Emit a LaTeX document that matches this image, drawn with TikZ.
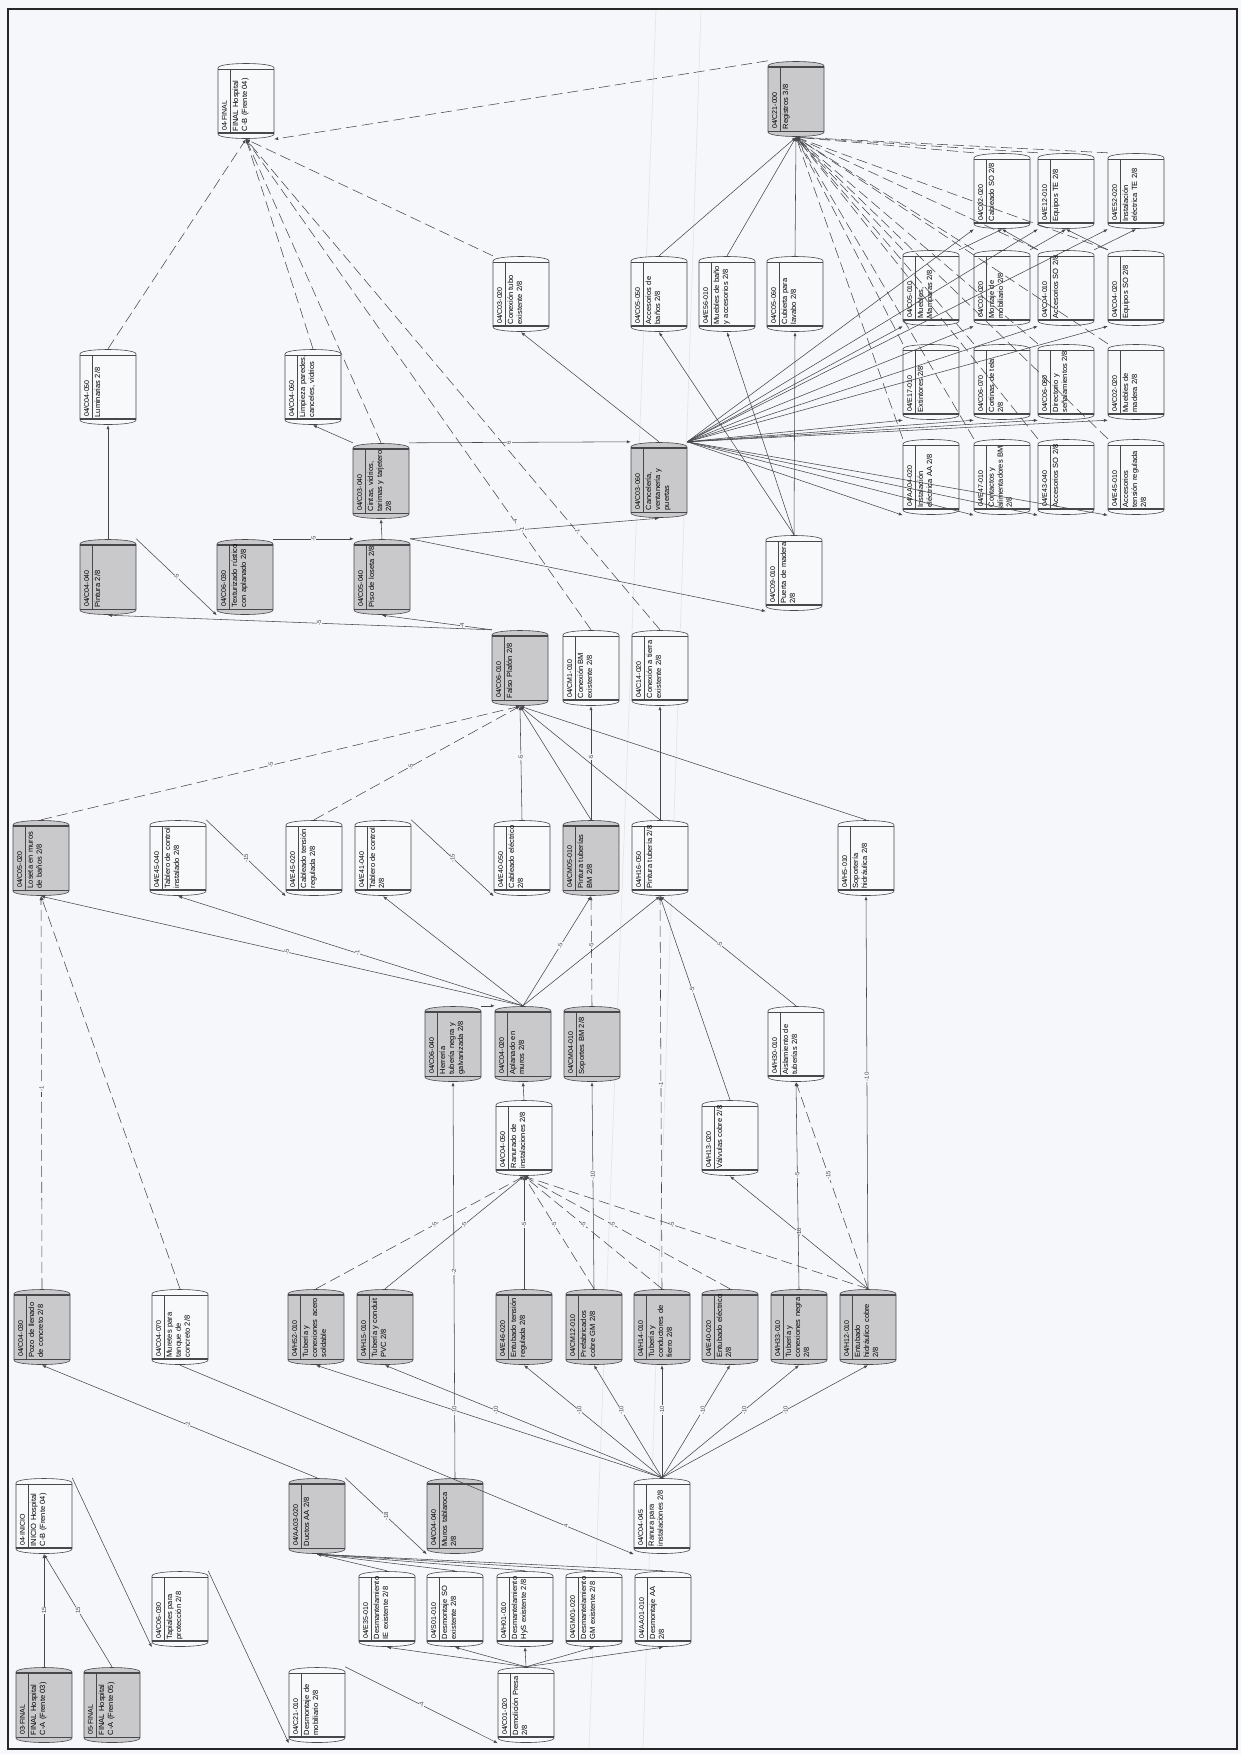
\documentclass[tikz,border=0pt]{standalone}
\usepackage{fontspec}
\setmainfont{Liberation Sans}
\usetikzlibrary{arrows.meta}
\hyphenpenalty=10000
\exhyphenpenalty=10000
\lefthyphenmin=64
\definecolor{bgc}{RGB}{246,247,250}
\definecolor{gfill}{RGB}{201,201,204}
\definecolor{wfill}{RGB}{248,249,251}
\definecolor{lnc}{RGB}{72,72,76}
\tikzset{
 edge/.style={draw=lnc,line width=0.55pt,-{Latex[length=4pt,width=3.2pt]}},
 dedge/.style={edge,dash pattern=on 11pt off 5pt},
 lab/.style={rotate=90,font=\fontsize{6}{6}\selectfont,fill=bgc,inner sep=0.5pt,text=lnc},
 toplgfill/.style={line width=1.4pt}, toplwfill/.style={line width=0.5pt},
 botlgfill/.style={line width=0.5pt}, botlwfill/.style={line width=1.2pt},
}
\newcommand\tsk[6]{%
 \node[minimum width=56pt,minimum height=76pt,inner sep=0pt] (#1) at (#2,#3) {};
 \draw[lnc,line width=0.6pt,fill=#4] ({#2-28},{#3-33}) .. controls ({#2-28},{#3-39}) and ({#2+28},{#3-39}) .. ({#2+28},{#3-33}) -- ({#2+28},{#3+33}) .. controls ({#2+28},{#3+39}) and ({#2-28},{#3+39}) .. ({#2-28},{#3+33}) -- cycle;
 \draw[lnc,topl#4] ({#2-28},{#3-32}) -- ({#2+28},{#3-32});
 \draw[lnc,botl#4] ({#2-28},{#3+32}) -- ({#2+28},{#3+32});
 \draw[lnc,line width=0.5pt] ({#2-15.5},{#3-32}) -- ({#2-15.5},{#3+32});
 \node[rotate=90,anchor=west,inner sep=0pt,font=\fontsize{7}{8}\selectfont] at ({#2-21.5},{#3+30}) {#5};
 \node[rotate=90,anchor=north west,inner sep=0pt,text width=63pt,align=left,font=\fontsize{7.5}{9}\selectfont] at ({#2-13.5},{#3+30.5}) {#6};
}
\begin{document}
\begin{tikzpicture}[x=1pt,y=-1pt]
\fill[bgc] (0,0) rectangle (1241,1754);
\useasboundingbox (0,0) rectangle (1241,1754);
\draw[black!10,line width=0.7pt] (656,10) -- (589,1748);
\draw[black!10,line width=0.7pt] (701,10) -- (643,1748);
\draw[line width=2.2pt,black!85] (8,9) rectangle (1237,1749);
% ---------- nodes ----------
\tsk{FIN}{246}{101}{wfill}{04-FINAL}{FINAL Hospital C-B (Frente 04)}
\tsk{REG}{796}{99}{gfill}{04/C21-000}{Registros 3/8}
\tsk{LUM}{108}{387}{wfill}{04/C04-050}{Luminarias 2/8}
\tsk{LIM}{313}{387}{wfill}{04/C04-060}{Limpieza paredes, canceles, vidrios}
\tsk{CTE}{521}{294}{wfill}{04/C03-020}{Conexión tubo existente 2/8}
\tsk{ABA}{659}{294}{wfill}{04/C05-050}{Accesorios de baños 2/8}
\tsk{MBA}{727}{294}{wfill}{04/E56-010}{Muebles de baño y accesorios 2/8}
\tsk{CUB}{795}{294}{wfill}{04/C05-060}{Cubierta para lavabo 2/8}
\tsk{CSO}{1002}{191}{wfill}{04/C02-020}{Cableado SO 2/8}
\tsk{ETE}{1066}{191}{wfill}{04/E12-010}{Equipos TE 2/8}
\tsk{IET}{1136}{191}{wfill}{04/E52-020}{Instalación eléctrica TE 2/8}
\tsk{MAM}{931}{288}{wfill}{04/C05-010}{Muebles, Mamparas 2/8}
\tsk{MON}{1002}{288}{wfill}{04/C01-020}{Montaje de mobiliario 2/8}
\tsk{ACS}{1066}{288}{wfill}{04/C04-010}{Accesorios SO 2/8}
\tsk{EQS}{1136}{288}{wfill}{04/C04-020}{Equipos SO 2/8}
\tsk{EXT}{931}{382}{wfill}{04/E17-010}{Extintores 2/8}
\tsk{CTL}{1002}{382}{wfill}{04/C06-070}{Cortinas de tela 2/8}
\tsk{DIR}{1066}{382}{wfill}{04/C06-080}{Directorio y señalamientos 2/8}
\tsk{MMA}{1136}{382}{wfill}{04/C02-020}{Muebles de madera 2/8}
\tsk{IAA}{931}{477}{wfill}{04/AA04-020}{Instalación eléctrica AA 2/8}
\tsk{CAB}{1002}{477}{wfill}{04/E47-010}{Contactos y alimentadores BM 2/8}
\tsk{ACR}{1066}{477}{wfill}{04/E43-040}{Accesorios SO 2/8}
\tsk{ATR}{1136}{477}{wfill}{04/E45-010}{Accesorios tensión regulada 2/8}
\tsk{CAN}{659}{480}{gfill}{04/C03-060}{Cancelería, ventanería y puertas}
\tsk{CIN}{381}{481}{gfill}{04/C03-040}{Cintas, vidrios, tarimas y tarjetero 2/8}
\tsk{PIN}{108}{577}{gfill}{04/C04-040}{Pintura 2/8}
\tsk{TEX}{245}{577}{gfill}{04/C06-030}{Texturizado rústico con aplanado 2/8}
\tsk{PIS}{382}{577}{gfill}{04/C05-040}{Piso de loseta 2/8}
\tsk{PUE}{794}{573}{wfill}{04/C09-010}{Puerta de madera 2/8}
\tsk{FPL}{520}{668}{gfill}{04/C06-010}{Falso Plafón 2/8}
\tsk{CBM}{591}{668}{wfill}{04/CM1-010}{Conexión BM existente 2/8}
\tsk{CTX}{660}{668}{wfill}{04/C14-020}{Conexión a tierra existente 2/8}
\tsk{LMB}{41}{858}{gfill}{04/C05-020}{Loseta en muros de baños 2/8}
\tsk{TCI}{178}{858}{wfill}{04/E45-040}{Tablero de control instalado 2/8}
\tsk{CTR}{314}{858}{wfill}{04/E45-020}{Cableado tensión regulada 2/8}
\tsk{TCO}{383}{858}{wfill}{04/E41-040}{Tablero de control 2/8}
\tsk{CEL}{522}{858}{wfill}{04/E40-050}{Cableado eléctrico 2/8}
\tsk{PTB}{591}{858}{gfill}{04/CM05-010}{Pintura tuberías BM 2/8}
\tsk{PTU}{660}{858}{wfill}{04/H16-050}{Pintura tubería 2/8}
\tsk{SOH}{866}{858}{wfill}{04/H5-010}{Soportería hidráulica 2/8}
\tsk{HER}{453}{1044}{gfill}{04/C06-040}{Herrería tubería negra y galvanizada 2/8}
\tsk{APL}{523}{1044}{gfill}{04/C04-020}{Aplanado en muros 2/8}
\tsk{SBM}{592}{1044}{gfill}{04/CM04-010}{Soportes BM 2/8}
\tsk{AIS}{796}{1044}{wfill}{04/H30-010}{Aislamiento de tuberías 2/8}
\tsk{ROT}{524}{1138}{wfill}{04/C04-050}{Ranurado de instalaciones 2/8}
\tsk{VAL}{730}{1138}{wfill}{04/H13-020}{Válvulas cobre 2/8}
\tsk{POZ}{42}{1327}{gfill}{04/C04-030}{Pozo de llenado de concreto 2/8}
\tsk{MUR}{180}{1327}{wfill}{04/C04-070}{Muretes para tanque de concreto 2/8}
\tsk{TAS}{316}{1327}{gfill}{04/H52-010}{Tubería y conexiones acero soldable}
\tsk{TPV}{385}{1327}{gfill}{04/H15-010}{Tubería y conduit PVC 2/8}
\tsk{ETR}{524}{1327}{gfill}{04/E46-020}{Entubado tensión regulada 2/8}
\tsk{PCB}{594}{1327}{gfill}{04/CM12-010}{Prefabricados cobre GM 2/8}
\tsk{TCF}{662}{1327}{gfill}{04/H14-010}{Tubería y conductores de fierro 2/8}
\tsk{EEL}{730}{1327}{gfill}{04/E40-020}{Entubado eléctrico 2/8}
\tsk{TCN}{799}{1327}{gfill}{04/H33-010}{Tubería y conexiones negra 2/8}
\tsk{EHC}{868}{1327}{gfill}{04/H12-010}{Entubado hidráulico cobre 2/8}
\tsk{INI}{44}{1516}{wfill}{04-INICIO}{INICIO Hospital C-B (Frente 04)}
\tsk{DAA}{317}{1516}{gfill}{04/AA03-020}{Ductos AA 2/8}
\tsk{MTB}{455}{1516}{gfill}{04/C04-040}{Muros tablaroca 2/8}
\tsk{RAN}{662}{1516}{wfill}{04/C04-045}{Ranura para instalaciones 2/8}
\tsk{TAP}{180}{1609}{wfill}{04/C06-030}{Tapiales para protección 2/8}
\tsk{DIE}{387}{1609}{wfill}{04/E35-010}{Desmantelamiento IE existente 2/8}
\tsk{DSO}{455}{1609}{wfill}{04/S01-010}{Desmontaje SO existente 2/8}
\tsk{DHS}{525}{1609}{wfill}{04/H01-010}{Desmantelamiento HyS existente 2/8}
\tsk{DGM}{594}{1609}{wfill}{04/GM01-020}{Desmantelamiento GM existente 2/8}
\tsk{DAB}{663}{1609}{wfill}{04/AA01-010}{Desmontaje AA 2/8}
\tsk{FZA}{44}{1705}{gfill}{03-FINAL}{FINAL Hospital C-A (Frente 03)}
\tsk{FZB}{112}{1705}{gfill}{05-FINAL}{FINAL Hospital C-A (Frente 05)}
\tsk{DMO}{317}{1705}{wfill}{04/C21-010}{Desmontaje de mobiliario 2/8}
\tsk{DPR}{526}{1705}{wfill}{04/C01-020}{Demolición Presa 2/8}
% ---------- connectors ----------
\draw[dedge] (REG.north west) -- (FIN.south east);
\draw[dedge] (LUM.north) -- (FIN.south);
\draw[dedge] (LIM.north) -- (FIN.south);
\draw[dedge] (CTE.north west) -- (FIN.south);
\draw[dedge] (CIN.north) -- (FIN.south);
\draw[dedge] (CBM.north) -- node[lab,pos=0.22]{-4} (FIN.south);
\draw[dedge] (CTX.north) -- node[lab,pos=0.2]{-1} (FIN.south);
\foreach \n in {CSO,ETE,IET,MAM,MON,ACS,EQS,EXT,CTL,DIR,MMA,IAA,CAB,ACR,ATR}{
  \draw[dedge] (\n.north west) -- (REG.south);
  \draw[edge] (CAN.north east) -- (\n.south west);
}
\draw[edge] (MAM.north east) -- (CSO.south);
\draw[edge] (ACS.north west) -- (CSO.south);
\draw[edge] (MON.north east) -- (ETE.south);
\draw[edge] (EQS.north west) -- (ETE.south);
\draw[edge] (ACS.north east) -- (IET.south);
\draw[edge] (ABA.north) -- (REG.south);
\draw[edge] (MBA.north) -- (REG.south);
\draw[edge] (CUB.north) -- (REG.south);
\draw[edge] (PUE.north) -- (ABA.south);
\draw[edge] (PUE.north) -- (MBA.south);
\draw[edge] (PUE.north) -- (CUB.south);
\draw[edge] (CAN.north) -- (CTE.south);
\draw[edge] (PIN.north) -- (LUM.south);
\draw[edge] (CIN.north west) -- (LIM.south);
\draw[edge] (PIN.north east) -- node[lab]{-5} (TEX.south west);
\draw[edge] (TEX.north east) -- node[lab]{-5} (PIS.north west);
\draw[edge] (PIS.north) -- (CIN.south);
\draw[edge] (CIN.north east) -- node[lab,pos=0.45]{6} (CAN.north west);
\draw[edge] (PIS.north east) -- node[lab,pos=0.45]{-1} (CAN.south);
\draw[edge] (PIS.north east) -- (PUE.south west);
\draw[edge] (FPL.north west) -- node[lab,pos=0.27]{-4} (PIS.south);
\draw[edge] (FPL.north west) -- node[lab,pos=0.45]{-5} (PIN.south);
\draw[dedge] (LMB.north) -- node[lab,pos=0.48]{-5} (FPL.south);
\draw[dedge] (CTR.north) -- node[lab,pos=0.47]{-5} (FPL.south);
\draw[edge] (CEL.north) -- node[lab,pos=0.55]{-5} (FPL.south);
\draw[edge] (PTB.north) -- (FPL.south);
\draw[edge] (PTB.north) -- node[lab,pos=0.55]{-5} (CBM.south);
\draw[edge] (PTU.north) -- (FPL.south);
\draw[edge] (PTU.north) -- (CTX.south);
\draw[edge] (SOH.north) -- (FPL.south);
\draw[edge] (TCI.north east) -- node[lab]{-15} (CTR.south west);
\draw[edge] (TCO.north east) -- node[lab]{-15} (CEL.south west);
\draw[edge] (APL.north) -- node[lab,pos=0.49]{-5} (LMB.south);
\draw[edge] (APL.north) -- node[lab,pos=0.48]{-1} (TCI.south);
\draw[edge] (APL.north) -- (TCO.south);
\draw[edge] (APL.north) -- node[lab,pos=0.55]{-5} (PTB.south);
\draw[edge] (APL.north) -- (PTU.south);
\draw[dedge] (SBM.north) -- node[lab,pos=0.55]{-5} (PTB.south);
\draw[dedge] (TCF.north) -- node[lab,pos=0.52]{-1} (PTU.south);
\draw[edge] (VAL.north) -- node[lab,pos=0.54]{-5} (PTU.south);
\draw[edge] (AIS.north) -- node[lab,pos=0.56]{-5} (PTU.south);
\draw[edge] (EHC.north) -- node[lab,pos=0.54]{-10} (SOH.south);
\draw[edge] (EHC.north) -- node[lab,pos=0.5]{-10} (VAL.south);
\draw[dedge] (EHC.north) -- node[lab,pos=0.55]{-15} (AIS.south);
\draw[edge] (TCN.north) -- node[lab,pos=0.55]{-5} (AIS.south);
\draw[edge] (PCB.north) -- node[lab,pos=0.55]{-10} (SBM.south);
\draw[edge] (MTB.north) -- node[lab,pos=0.52]{-2} (HER.south);
\draw[edge] (ROT.north) -- (APL.south);
\draw[edge] (HER.north east) -- (APL.north west);
\draw[dedge] (TAS.north) -- node[lab,pos=0.57]{-5} (ROT.south);
\draw[edge] (TPV.north) -- node[lab,pos=0.57]{-5} (ROT.south);
\draw[edge] (ETR.north) -- node[lab,pos=0.57]{-5} (ROT.south);
\draw[dedge] (PCB.north) -- node[lab,pos=0.57]{-5} (ROT.south);
\draw[dedge] (TCF.north) -- node[lab,pos=0.57]{-5} (ROT.south);
\draw[dedge] (EEL.north) -- node[lab,pos=0.57]{-5} (ROT.south);
\draw[dedge] (EHC.north) -- node[lab,pos=0.57]{-5} (ROT.south);
\foreach \n in {TAS,TPV,ETR,PCB,TCF,EEL,TCN,EHC}{
  \draw[edge] (RAN.north) -- node[lab,pos=0.6]{-10} (\n.south);
}
\draw[edge] (DAA.north) -- node[lab,pos=0.47]{-2} (POZ.south);
\draw[edge] (DAA.north east) -- node[lab]{-18} (MTB.south west);
\draw[edge] (MUR.south) -- node[lab,pos=0.85]{4} (RAN.south west);
\draw[dedge] (POZ.north) -- node[lab,pos=0.51]{-1} (LMB.south);
\draw[dedge] (MUR.north) -- (LMB.south);
\foreach \n in {DIE,DSO,DHS,DGM,DAB}{
  \draw[edge] (\n.north) -- (DAA.south);
  \draw[edge] (DPR.north) -- (\n.south);
}
\draw[edge] (DMO.north east) -- node[lab]{-4} (DPR.south west);
\draw[edge] (TAP.north east) -- (DMO.south west);
\draw[edge] (INI.north east) -- (TAP.south west);
\draw[edge] (FZA.north) -- node[lab]{15} (INI.south);
\draw[edge] (FZB.north) -- node[lab]{15} (INI.south);
\end{tikzpicture}
\end{document}
